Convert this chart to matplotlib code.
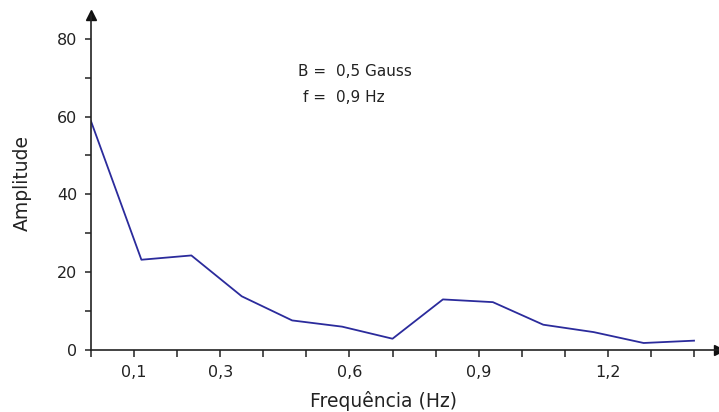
import matplotlib
matplotlib.use("Agg")
import matplotlib.pyplot as plt
from matplotlib.ticker import MultipleLocator, FixedLocator, FixedFormatter

# Data
frequencia = [0.0, 0.117, 0.233, 0.35, 0.467, 0.583, 0.70, 0.817, 0.933, 1.05, 1.167, 1.283, 1.40]
amplitude = [58.8, 23.2, 24.3, 13.8, 7.6, 6.0, 2.9, 13.0, 12.3, 6.5, 4.6, 1.8, 2.4]
x_tick_pos = [0.1, 0.3, 0.6, 0.9, 1.2]
x_tick_labels = ["0,1", "0,3", "0,6", "0,9", "1,2"]
y_ticks = [0, 20, 40, 60, 80]
info_names = ["B =", "f ="]
info_values = ["0,5 Gauss", "0,9 Hz"]

LINE_COLOR = "#2b2b9c"
TEXT_COLOR = "#222222"

fig = plt.figure(figsize=(7.19, 4.12), dpi=100)
fig.patch.set_facecolor("white")
W, H = 719, 412
ax = fig.add_axes([91 / W, (H - 350) / H, (W - 91) / W, (350 - 15) / H])

ax.plot(frequencia, amplitude, color=LINE_COLOR, lw=1.3)

ax.set_xlim(0, 1.458)
ax.set_ylim(0, 86.1)

for s in ["top", "right"]:
    ax.spines[s].set_visible(False)
for s in ["left", "bottom"]:
    ax.spines[s].set_linewidth(1.2)
    ax.spines[s].set_color(TEXT_COLOR)

# ticks
ax.xaxis.set_major_locator(FixedLocator(x_tick_pos))
ax.xaxis.set_major_formatter(FixedFormatter(x_tick_labels))
ax.xaxis.set_minor_locator(MultipleLocator(0.1))
ax.yaxis.set_major_locator(FixedLocator(y_ticks))
ax.yaxis.set_minor_locator(MultipleLocator(10))
ax.tick_params(axis="x", which="both", direction="out", length=5, width=1.1, colors=TEXT_COLOR, pad=6)
ax.tick_params(axis="y", which="both", direction="out", length=4, width=1.1, colors=TEXT_COLOR, pad=6)
ax.tick_params(labelsize=11.5)

# axis titles placed where they sit in the picture
fig.text(383 / W, 1 - 401 / H, "Frequência (Hz)", fontsize=13.5, color=TEXT_COLOR, ha="center", va="center")
fig.text(22 / W, 1 - 183 / H, "Amplitude", fontsize=13.5, color=TEXT_COLOR, ha="center", va="center",
         rotation=90)

# arrow heads on the axes
ax.plot(0, 1, marker="^", color="#111111", markersize=7, transform=ax.transAxes, clip_on=False)
ax.plot(1, 0, marker=">", color="#111111", markersize=7, transform=ax.transAxes, clip_on=False)

# info text, "=" signs lined up
for i, (name, value) in enumerate(zip(info_names, info_values)):
    y = 1 - (72 + 26 * i) / H
    fig.text(326 / W, y, name, fontsize=11, ha="right", va="center", color=TEXT_COLOR)
    fig.text(336 / W, y, value, fontsize=11, ha="left", va="center", color=TEXT_COLOR)

fig.savefig("out.png", dpi=100, facecolor="white")
